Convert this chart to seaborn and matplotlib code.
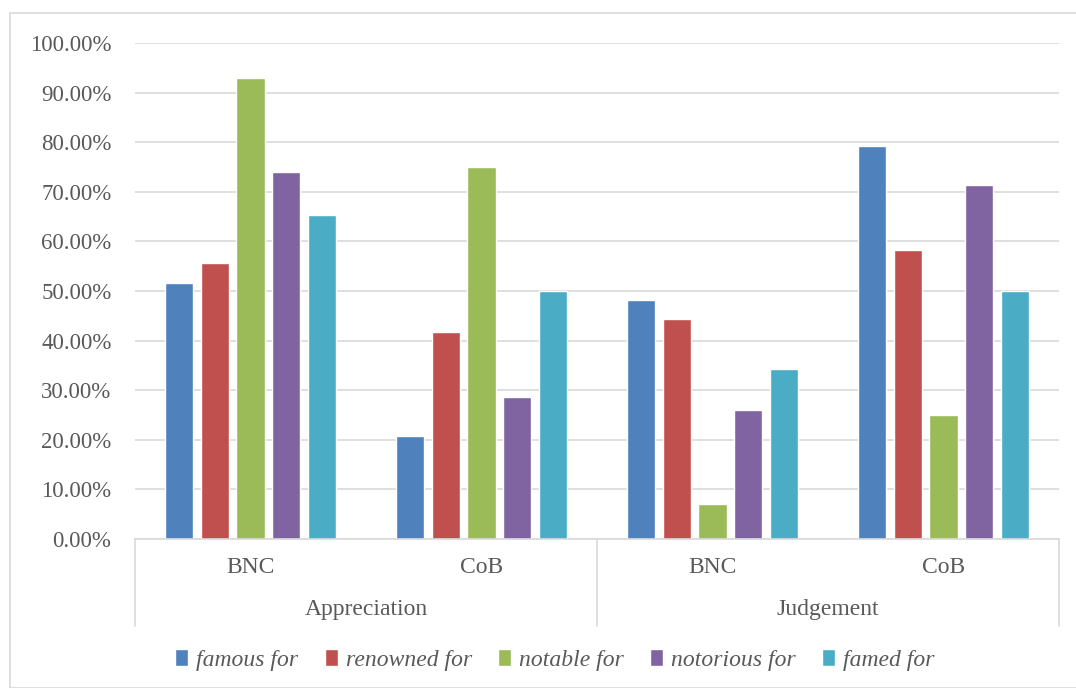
import numpy as np
import pandas as pd
import seaborn as sns
import matplotlib.pyplot as plt
from matplotlib.patches import Patch, Rectangle
from matplotlib.ticker import FuncFormatter

groups = ["Appreciation", "Appreciation", "Judgement", "Judgement"]
corpora = ["BNC", "CoB", "BNC", "CoB"]
series = ["famous for", "renowned for", "notable for", "notorious for", "famed for"]
famous_for = [0.5161, 0.2083, 0.4828, 0.7917]
renowned_for = [0.5556, 0.4167, 0.4444, 0.5833]
notable_for = [0.9286, 0.7500, 0.0714, 0.2500]
notorious_for = [0.7407, 0.2857, 0.2593, 0.7143]
famed_for = [0.6538, 0.5000, 0.3421, 0.5000]
colors = ["#4F81BD", "#C0504D", "#9BBB59", "#8064A2", "#4BACC6"]

keys = [g + " " + c for g, c in zip(groups, corpora)]
rows = []
for name, vals in zip(series, [famous_for, renowned_for, notable_for, notorious_for, famed_for]):
    for k, v in zip(keys, vals):
        rows.append({"key": k, "series": name, "value": v})
df = pd.DataFrame(rows)

sns.set_style("white")
plt.rcParams['font.family'] = ['Liberation Serif', 'DejaVu Serif']
text_col = "#595959"
grid_col = "#D9D9D9"

fig = plt.figure(figsize=(10.76, 6.88), dpi=100)
fig.patches.append(Rectangle((10 / 1076, 0), 1, 1 - 13 / 688, transform=fig.transFigure,
                             fill=False, edgecolor=grid_col, linewidth=1.2))
ax = fig.add_axes([135 / 1076, 1 - 539 / 688, 924 / 1076, 496 / 688])

sns.barplot(data=df, x="key", y="value", hue="series", order=keys, hue_order=series,
            palette=colors, width=0.77, gap=0.21, ax=ax, legend=False, saturation=1)

ax.set_ylim(0, 1)
ax.set_xlim(-0.5, 3.5)
ax.set_yticks(np.arange(0, 1.01, 0.1))
ax.yaxis.set_major_formatter(FuncFormatter(lambda v, p: f"{v * 100:.2f}%"))
ax.yaxis.grid(True, color=grid_col, linewidth=1.2)
ax.set_axisbelow(True)
for s in ["left", "right", "top"]:
    ax.spines[s].set_visible(False)
ax.spines["bottom"].set_color(grid_col)
ax.spines["bottom"].set_linewidth(1.2)
ax.tick_params(axis="y", length=0, pad=17, labelsize=16.5, labelcolor=text_col)
ax.tick_params(axis="x", length=0, pad=13, labelsize=17, labelcolor=text_col)
ax.set_xticks(range(4))
ax.set_xticklabels(corpora)
ax.set_xlabel("")
ax.set_ylabel("")

# second level of category labels
trans = ax.get_xaxis_transform()
for g, xc in [("Appreciation", 0.5), ("Judgement", 2.5)]:
    ax.text(xc, -0.143, g, transform=trans, ha="center", va="center",
            fontsize=17, color=text_col)
for xs in [-0.5, 1.5, 3.5]:
    ax.plot([xs, xs], [0, -0.175], transform=trans, color=grid_col,
            linewidth=1.2, clip_on=False)

handles = [Patch(facecolor=c, label=s) for c, s in zip(colors, series)]
fig.legend(handles=handles, loc="center", bbox_to_anchor=(555 / 1076, 1 - 660 / 688),
           ncol=5, frameon=False, handlelength=0.55, handleheight=0.7,
           handletextpad=0.35, columnspacing=1.1,
           prop={"family": "Liberation Serif", "style": "italic", "size": 17},
           labelcolor=text_col)

fig.savefig("out.png", dpi=100)
